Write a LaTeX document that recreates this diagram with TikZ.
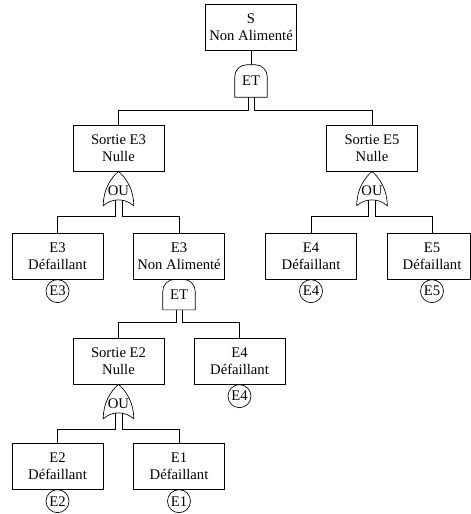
\documentclass[tikz,border=0pt]{standalone}
\usepackage{fontspec}
\setmainfont{Liberation Serif}
\usetikzlibrary{calc}

% outline of an AND gate around a gate node
\newcommand\drawandgate[1]{%
  \draw[wire] (#1.south west) -- ($(#1.north west)+(0,12)$)
    arc[start angle=180,end angle=90,radius=9pt]
    -- ($(#1.north east)+(-12,0)$)
    arc[start angle=90,end angle=0,radius=9pt]
    -- (#1.south east) -- cycle;}
% outline of an OR gate around a gate node
\newcommand\draworgate[1]{%
  \draw[wire] (#1.south west)
    .. controls ($(#1.south west)+(0,-16)$) and ($(#1.north)+(-8,7)$) .. (#1.north)
    .. controls ($(#1.north)+(8,7)$) and ($(#1.south east)+(0,-16)$) .. (#1.south east)
    .. controls ($(#1.south)+(7,-8)$) and ($(#1.south)+(-7,-8)$) .. (#1.south west);}

\begin{document}
\begin{tikzpicture}[x=0.75pt,y=-0.75pt,
  every node/.style={font=\fontsize{11}{12.5}\selectfont},
  wire/.style={line width=0.5pt,draw=black},
  box/.style={wire,draw,minimum width=68.25pt,minimum height=34.5pt,align=center,inner sep=0pt},
  frame/.style={wire,draw,minimum height=34.5pt,inner sep=0pt},
  label/.style={align=center,inner sep=0pt},
  andg/.style={inner sep=0pt,minimum width=24pt},
  org/.style={inner sep=0pt,minimum width=22.5pt,minimum height=25.5pt,text height=10pt,text depth=0pt},
  evt/.style={wire,draw,circle,inner sep=0pt,minimum size=17.25pt}
]
\useasboundingbox (0,0) rectangle (471,514);

% top event
\node[box] (s) at (251,27) {S\\Non Alimenté};
\node[andg,minimum height=24pt] (g1) at (251,81) {ET};
\drawandgate{g1}

% second level
\node[box] (se3) at (118.5,148) {Sortie E3\\Nulle};
\node[box] (se5) at (372,148) {Sortie E5\\Nulle};
\node[org,anchor=north] (g2) at (se3.south) {OU};
\node[org,anchor=north] (g3) at (se5.south) {OU};
\draworgate{g2}
\draworgate{g3}

% third level
\node[box] (e3d) at (57.5,256) {E3\\Défaillant};
\node[box] (e3na) at (179,256) {E3\\Non Alimenté};
\node[box] (e4r) at (311,256) {E4\\Défaillant};
\node[frame,minimum width=62.25pt] (e5d) at (428.5,256) {};
\node[label] (e5t) at (432,256) {E5\\Défaillant};
\node[evt,anchor=north] (c3) at (e3d.south) {E3};
\node[evt,anchor=north] (c4r) at (e4r.south) {E4};
\node[evt,anchor=north] (c5) at (e5d.south -| e5t) {E5};
\node[andg,minimum height=22.5pt,anchor=north] (g4) at (e3na.south) {ET};
\drawandgate{g4}

% fourth level
\node[box] (se2) at (118.5,361) {Sortie E2\\Nulle};
\node[box] (e4m) at (239.5,361) {E4\\Défaillant};
\node[evt,anchor=north] (c4m) at (e4m.south) {E4};
\node[org,anchor=north] (g5) at (se2.south) {OU};
\draworgate{g5}

% basic events
\node[box] (e2) at (57.5,466) {E2\\Défaillant};
\node[box] (e1) at (179,466) {E1\\Défaillant};
\node[evt,anchor=north] (c2) at (e2.south) {E2};
\node[evt,anchor=north] (c1) at (e1.south) {E1};

% connectors
\draw[wire] (s.south) -- (g1.north);
\draw[wire] ($(g1.south)+(-3,0)$) -- ++(0,13.5) -| (se3.north);
\draw[wire] ($(g1.south)+(3,0)$) -- ++(0,13.5) -| (se5.north);

\draw[wire] ($(g2.south)+(-3.5,-5.8)$) -- ++(0,16) -| (e3d.north);
\draw[wire] ($(g2.south)+(3.5,-5.8)$) -- ++(0,16) -| (e3na.north);
\draw[wire] ($(g3.south)+(-3.5,-5.8)$) -- ++(0,16) -| (e4r.north);
\draw[wire] ($(g3.south)+(3.5,-5.8)$) -- ++(0,16) -| (e5d.north -| e5t);

\draw[wire] ($(g4.south)+(-3,0)$) -- ++(0,12.5) -| (se2.north);
\draw[wire] ($(g4.south)+(3,0)$) -- ++(0,12.5) -| (e4m.north);

\draw[wire] ($(g5.south)+(-3.5,-5.8)$) -- ++(0,16) -| (e2.north);
\draw[wire] ($(g5.south)+(3.5,-5.8)$) -- ++(0,16) -| (e1.north);
\end{tikzpicture}
\end{document}
